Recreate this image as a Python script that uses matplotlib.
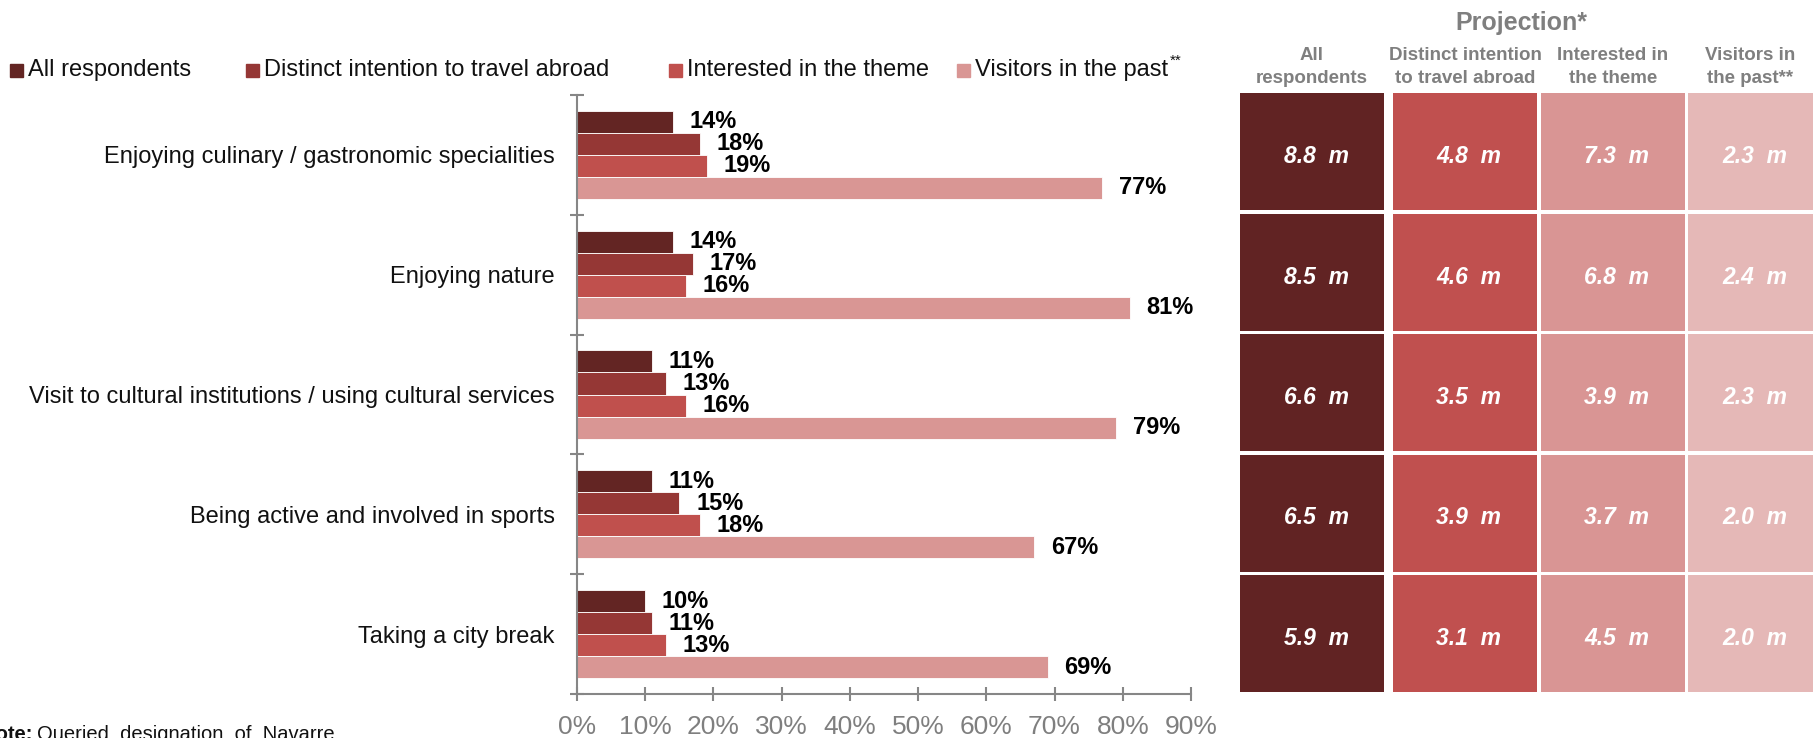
import matplotlib
matplotlib.use("Agg")
import matplotlib.pyplot as plt
from matplotlib.patches import Rectangle

plt.rcParams['font.family'] = ['Liberation Sans', 'DejaVu Sans']

# ---- data ----
categories = [
    "Enjoying culinary / gastronomic specialities",
    "Enjoying nature",
    "Visit to cultural institutions / using cultural services",
    "Being active and involved in sports",
    "Taking a city break",
]
series_names = [
    "All respondents",
    "Distinct intention to travel abroad",
    "Interested in the theme",
    "Visitors in the past",
]
share_all = [14, 14, 11, 11, 10]
share_distinct = [18, 17, 13, 15, 11]
share_interested = [19, 16, 16, 18, 13]
share_visitors = [77, 81, 79, 67, 69]

proj_all = [8.8, 8.5, 6.6, 6.5, 5.9]
proj_distinct = [4.8, 4.6, 3.5, 3.9, 3.1]
proj_interested = [7.3, 6.8, 3.9, 3.7, 4.5]
proj_visitors = [2.3, 2.4, 2.3, 2.0, 2.0]

table_title = "Projection*"
table_headers = ["All\nrespondents", "Distinct intention\nto travel abroad",
                 "Interested in\nthe theme", "Visitors in\nthe past**"]
x_ticks = [0, 10, 20, 30, 40, 50, 60, 70, 80, 90]
note_label = "Note:"
note_text = "Queried  designation  of  Navarre"

# ---- styling ----
bar_colors = ["#632523", "#953735", "#C0504D", "#D99694"]
cell_colors = ["#612323", "#C0504F", "#D99594", "#E5B8B7"]
axis_grey = "#868686"
text_grey = "#7F7F7F"

W, H = 1813, 738
fig = plt.figure(figsize=(W / 100, H / 100), dpi=100)

# overlay in pixel coordinates for legend, table and note
ov = fig.add_axes([0, 0, 1, 1])
ov.set_xlim(0, W)
ov.set_ylim(H, 0)
ov.axis("off")

# ---- bar chart ----
ax_left, ax_right, ax_top, ax_bottom = 577, 1191, 95, 694
ax = fig.add_axes([ax_left / W, (H - ax_bottom) / H,
                   (ax_right - ax_left) / W, (ax_bottom - ax_top) / H])
ax.set_facecolor("none")

series_values = [share_all, share_distinct, share_interested, share_visitors]
n_cat = len(categories)
bar_h = 0.184
centers = [i + 0.5 for i in range(n_cat)]
for j, (vals, col) in enumerate(zip(series_values, bar_colors)):
    ys = [c + (j - 1.5) * bar_h for c in centers]
    ax.barh(ys, vals, height=bar_h, color=col, edgecolor="white",
            linewidth=0.6, zorder=2)
    for y, v in zip(ys, vals):
        ax.annotate(f"{v}%", xy=(v, y), xytext=(12, 0),
                    textcoords="offset points", ha="left", va="center",
                    fontsize=17, fontweight="bold", color="black")

ax.set_xlim(0, 90)
ax.set_ylim(n_cat, 0)
for s in ["top", "right"]:
    ax.spines[s].set_visible(False)
for s in ["left", "bottom"]:
    ax.spines[s].set_color(axis_grey)
    ax.spines[s].set_linewidth(1.5)

ax.set_xticks(x_ticks, [f"{t}%" for t in x_ticks])
ax.tick_params(axis="x", direction="inout", length=10, width=1.5,
               color=axis_grey, labelcolor=text_grey, labelsize=19, pad=10)
ax.set_yticks(range(n_cat + 1), [""] * (n_cat + 1))
ax.tick_params(axis="y", which="major", direction="inout", length=10,
               width=1.5, color=axis_grey)
ax.set_yticks(centers, categories, minor=True)
ax.tick_params(axis="y", which="minor", length=0, pad=16, labelsize=17,
               labelcolor="#111111")

# ---- legend ----
legend_x = [10, 246, 669, 957]
leg_y = 70
sq = 13
legend_texts = []
for x, name, col in zip(legend_x, series_names, bar_colors):
    ov.add_patch(Rectangle((x, leg_y - sq / 2), sq, sq, color=col))
    t = ov.text(x + 18, leg_y, name, fontsize=17, va="center", ha="left",
                color="#111111")
    legend_texts.append(t)
fig.canvas.draw()
bb = legend_texts[-1].get_window_extent()
ov.text(bb.x1 + 2, leg_y - 9, "**", fontsize=11, va="center", ha="left",
        color="#111111")

# ---- projection table ----
proj_values = [proj_all, proj_distinct, proj_interested, proj_visitors]
col_left = [1240, 1393, 1541, 1688]
col_w = 144
row_top = 93
row_pitch = 120.5
row_h = 117

ov.text(1521, 23, table_title, fontsize=18, fontweight="bold",
        color=text_grey, ha="center", va="center")
for c, (x0, header, vals, col) in enumerate(
        zip(col_left, table_headers, proj_values, cell_colors)):
    vis_w = min(col_w, W - x0)
    cx = x0 + vis_w / 2
    ov.text(cx, 67, header, fontsize=13.5, fontweight="bold",
            color=text_grey, ha="center", va="center", linespacing=1.4)
    for r, v in enumerate(vals):
        y0 = row_top + r * row_pitch
        ov.add_patch(Rectangle((x0, y0), col_w, row_h, color=col,
                               linewidth=0))
        ov.text(cx + 4, y0 + row_h / 2 + 5, f"{v:.1f}  m", fontsize=16.5,
                fontweight="bold", fontstyle="italic", color="white",
                ha="center", va="center")

# ---- note ----
ov.text(33, 740, note_label, fontsize=14.5, fontweight="bold",
        ha="right", va="baseline", color="#111111")
ov.text(37, 740, note_text, fontsize=14.5, ha="left", va="baseline",
        color="#111111")

fig.savefig("out.png", dpi=100)
